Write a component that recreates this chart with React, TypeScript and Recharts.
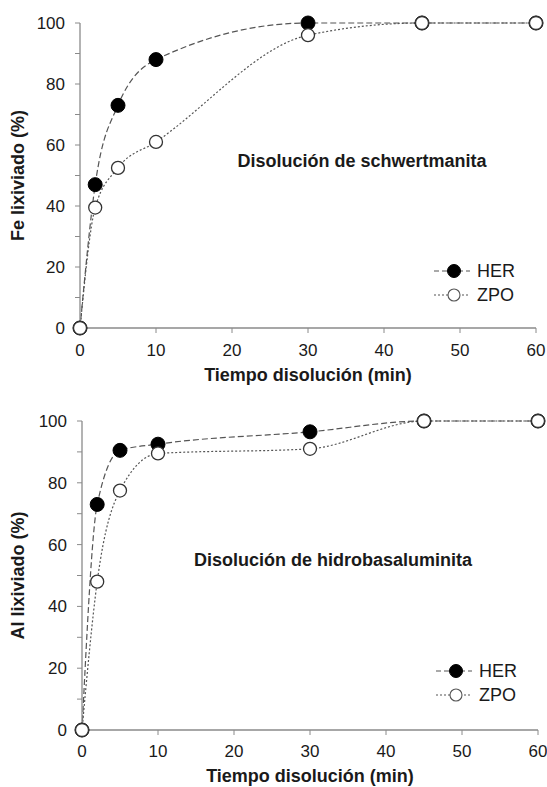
import React from 'react';
import { LineChart, Line, XAxis, YAxis } from 'recharts';

const minutes = [0, 2, 5, 10, 30, 45, 60];
const feHer = [0, 47, 73, 88, 100, 100, 100];
const feZpo = [0, 39.5, 52.5, 61, 96, 100, 100];
const alHer = [0, 73, 90.5, 92.5, 96.5, 100, 100];
const alZpo = [0, 48, 77.5, 89.5, 91, 100, 100];
const xTicks = [0, 10, 20, 30, 40, 50, 60];
const yTicks = [0, 10, 20, 30, 40, 50, 60, 70, 80, 90, 100];
const seriesNames = ['HER', 'ZPO'];

const FONT = "'Liberation Sans', Arial, sans-serif";
const AXIS = '#8a8a8a';
const LINE = '#555';
const TXT = '#1a1a1a';

interface PanelProps {
  her: number[];
  zpo: number[];
  yTitle: string;
  note: string;
  noteX: number;
  noteY: number;
  legendX: number;
  legendY: number;
  width: number;
  height: number;
  margin: { top: number; right: number; left: number; bottom: number };
  yWidth: number;
  xTickMargin: number;
  xTitleOffset: number;
}

function LegendRow({ name, filled }: { name: string; filled: boolean }) {
  return (
    <div style={{ display: 'flex', alignItems: 'center', height: 24 }}>
      <svg width={38} height={20}>
        <line x1={1} y1={10} x2={37} y2={10} stroke={LINE} strokeWidth={1.2}
          strokeDasharray={filled ? '5 3' : '2 2'} />
        <circle cx={21} cy={10} r={filled ? 6.5 : 6} fill={filled ? '#000' : '#fff'}
          stroke={filled ? '#000' : '#555'} strokeWidth={filled ? 1 : 1.1} />
      </svg>
      <span style={{ marginLeft: 6, fontSize: 18, color: TXT }}>{name}</span>
    </div>
  );
}

function Panel(p: PanelProps) {
  const data = minutes.map((t, i) => ({ t, her: p.her[i], zpo: p.zpo[i] }));
  return (
    <div style={{ position: 'relative', width: p.width, height: p.height }}>
      <LineChart width={p.width} height={p.height} data={data} margin={p.margin}>
        <XAxis
          dataKey="t"
          type="number"
          domain={[0, 60]}
          ticks={xTicks}
          height={50}
          axisLine={{ stroke: AXIS, strokeWidth: 1.3 }}
          tickLine={{ stroke: AXIS }}
          tickSize={5}
          tickMargin={p.xTickMargin}
          tick={{ fill: TXT, fontSize: 17, fontFamily: FONT }}
          label={(lp: any) => {
            const vb = lp.viewBox || {};
            return (
              <text x={vb.x + vb.width / 2} y={vb.y + p.xTitleOffset} textAnchor="middle"
                fontSize={18} fontWeight="bold" fontFamily={FONT} fill={TXT}>
                Tiempo disolución (min)
              </text>
            );
          }}
        />
        <YAxis
          type="number"
          domain={[0, 100]}
          ticks={yTicks}
          width={p.yWidth}
          interval={0}
          axisLine={{ stroke: AXIS, strokeWidth: 1.3 }}
          tickLine={{ stroke: AXIS }}
          tickSize={5}
          tickMargin={10}
          tickFormatter={(v: number) => (v % 20 === 0 ? String(v) : '')}
          tick={{ fill: TXT, fontSize: 17, fontFamily: FONT }}
          label={(lp: any) => {
            const vb = lp.viewBox || {};
            const cy = vb.y + vb.height / 2;
            return (
              <text x={24} y={cy} textAnchor="middle" transform={`rotate(-90 24 ${cy})`}
                fontSize={18} fontWeight="bold" fontFamily={FONT} fill={TXT}>
                {p.yTitle}
              </text>
            );
          }}
        />
        <Line
          type="monotone"
          dataKey="her"
          name={seriesNames[0]}
          stroke={LINE}
          strokeWidth={1.2}
          strokeDasharray="6 3"
          dot={{ r: 7, fill: '#000', stroke: '#000', strokeWidth: 1, strokeDasharray: '0' }}
          isAnimationActive={false}
        />
        <Line
          type="monotone"
          dataKey="zpo"
          name={seriesNames[1]}
          stroke={LINE}
          strokeWidth={1.2}
          strokeDasharray="2 2"
          dot={{ r: 6.5, fill: '#fff', stroke: '#333', strokeWidth: 1.3, strokeDasharray: '0' }}
          isAnimationActive={false}
        />
      </LineChart>
      <div style={{
        position: 'absolute', left: p.noteX - 200, top: p.noteY - 11, width: 400,
        textAlign: 'center', fontFamily: FONT, fontWeight: 'bold', fontSize: 18, color: TXT,
      }}>
        {p.note}
      </div>
      <div style={{ position: 'absolute', left: p.legendX, top: p.legendY, fontFamily: FONT }}>
        <LegendRow name={seriesNames[0]} filled />
        <LegendRow name={seriesNames[1]} filled={false} />
      </div>
    </div>
  );
}

export default function App() {
  return (
    <div style={{ position: 'absolute', left: 0, top: 0, width: 547, height: 787, background: '#fff' }}>
      <Panel
        her={feHer}
        zpo={feZpo}
        yTitle="Fe lixiviado (%)"
        note="Disolución de schwertmanita"
        noteX={362}
        noteY={162}
        legendX={433}
        legendY={259}
        width={547}
        height={394}
        margin={{ top: 23, right: 11, left: 0, bottom: 16 }}
        yWidth={80}
        xTickMargin={11}
        xTitleOffset={53}
      />
      <Panel
        her={alHer}
        zpo={alZpo}
        yTitle="Al lixiviado (%)"
        note="Disolución de hidrobasaluminita"
        noteX={333}
        noteY={167}
        legendX={435}
        legendY={265}
        width={547}
        height={393}
        margin={{ top: 27, right: 9, left: 0, bottom: 7 }}
        yWidth={82}
        xTickMargin={10}
        xTitleOffset={52}
      />
    </div>
  );
}
